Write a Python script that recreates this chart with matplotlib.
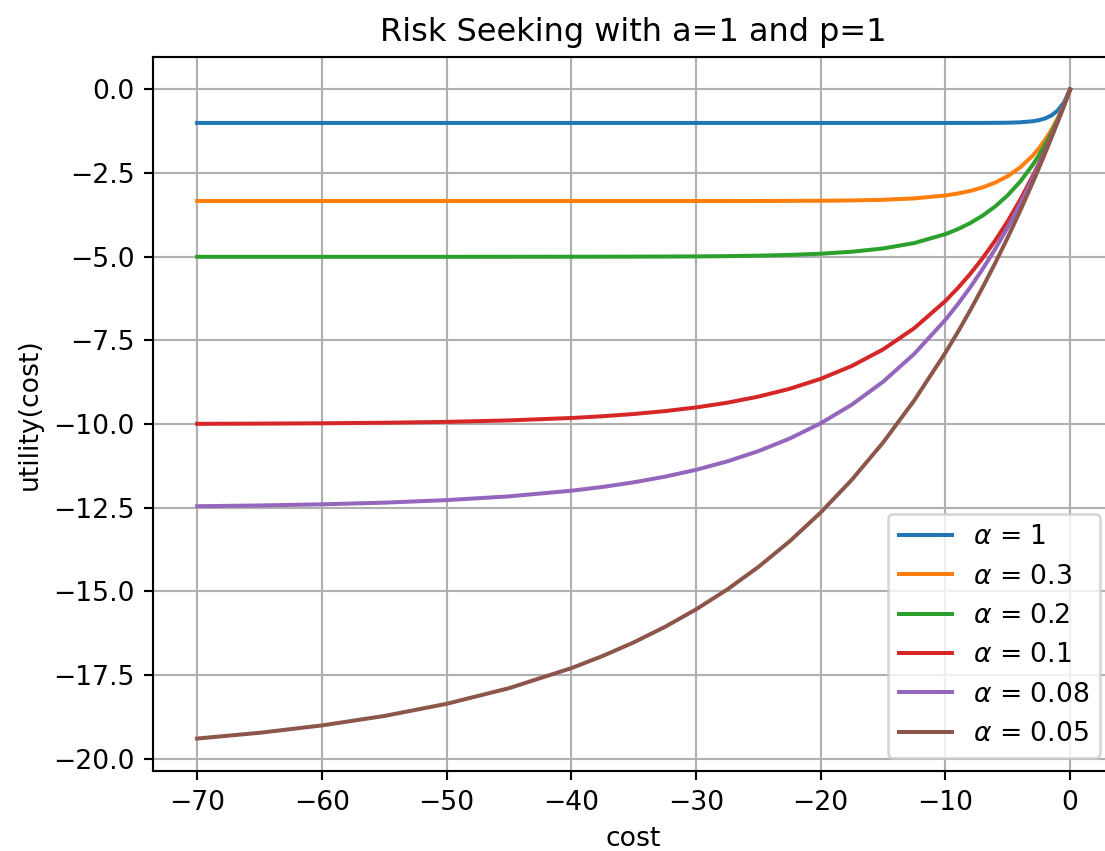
import matplotlib
matplotlib.use("Agg")
import matplotlib.pyplot as plt

cost = [-70, -65, -60, -55, -50, -45, -40, -37.5, -35, -32.5, -30, -27.5, -25, -22.5,
        -20, -17.5, -15, -12.5, -10, -9, -8, -7, -6, -5, -4, -3, -2.5, -2, -1.5, -1, -0.5, 0]

alphas = ["1", "0.3", "0.2", "0.1", "0.08", "0.05"]

u_a1 = [-1.000, -1.000, -1.000, -1.000, -1.000, -1.000, -1.000, -1.000, -1.000, -1.000,
        -1.000, -1.000, -1.000, -1.000, -1.000, -1.000, -1.000, -1.000, -1.000, -0.9999,
        -0.9997, -0.9991, -0.9975, -0.9933, -0.9817, -0.9502, -0.918, -0.8647, -0.777,
        -0.6321, -0.3935, 0.0]
u_a03 = [-3.333, -3.333, -3.333, -3.333, -3.333, -3.333, -3.333, -3.333, -3.333, -3.333,
         -3.333, -3.333, -3.332, -3.329, -3.325, -3.316, -3.296, -3.255, -3.167, -3.109,
         -3.031, -2.925, -2.782, -2.590, -2.329, -1.978, -1.759, -1.504, -1.208, -0.864,
         -0.464, 0.0]
u_a02 = [-5.000, -5.000, -5.000, -5.000, -5.000, -4.999, -4.998, -4.997, -4.995, -4.992,
         -4.988, -4.980, -4.966, -4.944, -4.908, -4.849, -4.751, -4.590, -4.323, -4.174,
         -3.991, -3.767, -3.494, -3.161, -2.753, -2.256, -1.967, -1.648, -1.296, -0.906,
         -0.476, 0.0]
u_a01 = [-9.991, -9.985, -9.975, -9.959, -9.933, -9.889, -9.817, -9.765, -9.698, -9.612,
         -9.502, -9.361, -9.179, -8.946, -8.647, -8.262, -7.769, -7.135, -6.321, -5.934,
         -5.507, -5.034, -4.512, -3.935, -3.297, -2.592, -2.212, -1.813, -1.393, -0.952,
         -0.488, 0.0]
u_a008 = [-12.454, -12.431, -12.397, -12.347, -12.271, -12.159, -11.990, -11.878, -11.740,
          -11.571, -11.366, -11.115, -10.808, -10.434, -9.976, -9.418, -8.735, -7.902,
          -6.884, -6.415, -5.909, -5.360, -4.765, -4.121, -3.424, -2.667, -2.266, -1.849,
          -1.414, -0.961, -0.490, 0.0]
u_a005 = [-19.396, -19.224, -19.004, -18.722, -18.358, -17.892, -17.293, -16.932, -16.524,
          -16.062, -15.537, -14.944, -14.270, -13.506, -12.642, -11.662, -10.553, -9.294,
          -7.869, -7.248, -6.594, -5.906, -5.184, -4.424, -3.625, -2.786, -2.350, -1.903,
          -1.445, -0.975, -0.494, 0.0]

series = [u_a1, u_a03, u_a02, u_a01, u_a008, u_a005]

DPI = 192
fig = plt.figure(figsize=(1105 / DPI, 851 / DPI), dpi=DPI)
ax = fig.add_axes([0.1389, 0.094, 0.869, 0.839])

for a, u in zip(alphas, series):
    ax.plot(cost, u, label=r"$\alpha$ = " + a)

ax.set_title("Risk Seeking with a=1 and p=1")
ax.set_xlabel("cost")
ax.set_ylabel("utility(cost)")
ax.grid(True)
ax.legend(loc="lower right")

fig.savefig("out.png", dpi=DPI)
